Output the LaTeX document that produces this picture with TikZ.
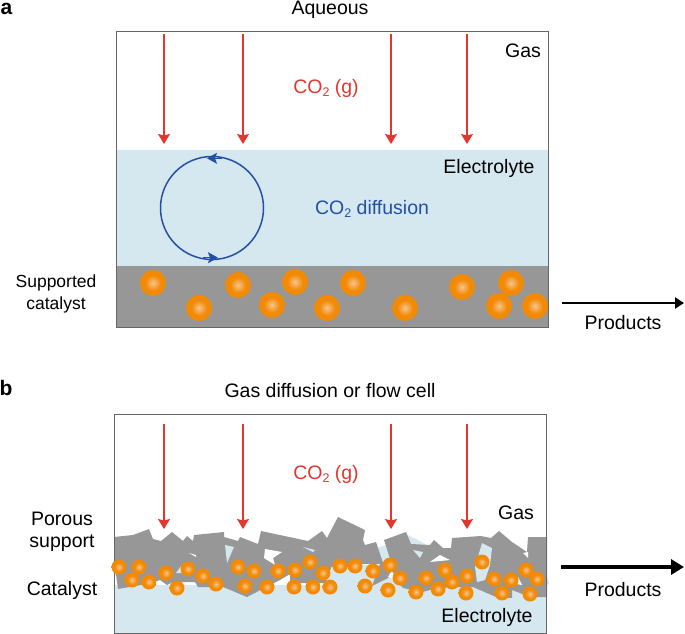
\documentclass[tikz,border=0pt]{standalone}
\usepackage{fontspec}
\setmainfont{Liberation Sans}
\usepackage{tikz}
\usetikzlibrary{arrows.meta,calc,positioning}

\definecolor{gasred}{HTML}{E5352F}
\definecolor{loopblue}{HTML}{2450A4}
\definecolor{elyte}{HTML}{D5E8F0}
\definecolor{rock}{HTML}{969796}
\definecolor{frameline}{HTML}{666666}
\definecolor{ballmid}{HTML}{F28A05}
\definecolor{ballhi}{HTML}{F7C48C}
\pgfdeclareradialshading{ballshade}{\pgfpoint{0bp}{0bp}}{%
  color(0bp)=(ballhi); color(15bp)=(ballmid); color(50bp)=(ballmid)}
\newcommand{\cotwo}{CO\raisebox{-3pt}{\fontsize{12.5}{12.5}\selectfont 2}}

\tikzset{
  lbl/.style={font=\fontsize{19.5}{21.5}\selectfont, inner sep=0pt, align=center},
  panel/.style={font=\fontsize{21}{21}\selectfont\bfseries, inner sep=0pt},
  redlbl/.style={lbl, text=gasred},
  co2/.style={gasred, line width=1.2pt, -{Stealth[length=10pt,width=12pt,inset=1.5pt]}},
  ballbig/.style={circle, inner sep=0pt, minimum size=26pt, shading=ballshade},
  ballsmall/.style={circle, inner sep=0pt, minimum size=15pt, shading=ballshade},
  frame/.style={draw=frameline, line width=1pt},
}

\begin{document}
\begin{tikzpicture}[x=1pt, y=-1pt]
   \useasboundingbox (0,0) rectangle (685,634);

   %panel a
   \fill[elyte] (116,150) rectangle (548,266);
   \fill[rock] (116,266) rectangle (548,327);
   \draw[frame] (116,32) rectangle (548,327);
   \foreach \x/\y [count=\i] in {153/283,199/308,238/285,272/305,295/282,327/308,353/283,
                                 405/308,462/287,511/283,499/306,535/306}
     \node[ballbig] (ba\i) at (\x,\y) {};

   \node[lbl] (aq) at (330,10) {Aqueous};
   \node[panel] (pa) at (6.5,9) {a};
   \node[lbl] (gasa) at (523,51) {Gas};
   \node[redlbl] (co2a) at (326,88) {\cotwo{} (g)};
   \node[lbl] (ela) at (489,168) {Electrolyte};
   \node[lbl, text=loopblue] (dif) at (372,209) {\cotwo{} diffusion};
   \node[lbl, font=\fontsize{17.5}{21.5}\selectfont] (sup) at (56,294) {Supported\\catalyst};
   \node[lbl] (proa) at (623,323) {Products};

   %convection loop
   \node[circle, draw=loopblue, line width=1.5pt, minimum size=103pt, inner sep=0pt] (loop) at (212,208) {};
   \coordinate (l0) at (222,158.3);
   \coordinate (l1) at (207,158.3);
   \coordinate (l2) at (203,257.7);
   \coordinate (l3) at (218,257.7);

   \coordinate (a0) at (164,34);
   \coordinate (a1) at (164,144);
   \coordinate (a2) at (243,34);
   \coordinate (a3) at (243,144);
   \coordinate (a4) at (391,34);
   \coordinate (a5) at (391,144);
   \coordinate (a6) at (467,34);
   \coordinate (a7) at (467,144);
   \coordinate (p0) at (562,303);
   \coordinate (p1) at (684,303);

   \path[co2]
     (a0) edge (a1)
     (a2) edge (a3)
     (a4) edge (a5)
     (a6) edge (a7);
   \path[loopblue, line width=1.2pt, -{Stealth[length=10pt,width=11pt,inset=2pt]}]
     (l0) edge (l1)
     (l2) edge (l3);
   \path[-{Stealth[length=9pt,width=11pt,inset=0pt]}, line width=2.8pt]
     (p0) edge (p1);

   %panel b
   \fill[elyte] (115,585) rectangle (546,633);
   \fill[elyte] (325,585) -- (333,565) -- (395,565) -- (400,590) -- cycle;
   \fill[elyte] (378,548) -- (385,545) -- (394,565) -- (382,565) -- cycle;
   \fill[elyte] (404,533) -- (418,540) -- (432,548) -- (411,546) -- cycle;
   \fill[elyte] (445,565) -- (465,568) -- (470,590) -- (440,590) -- cycle;
   \fill[elyte] (522,575) -- (545,573) -- (549,583) -- (542,592) -- (525,590) -- cycle;
   \fill[rock] (114,537) -- (133,535) -- (149,529) -- (153,539) -- (161,541) -- (172,532)
     -- (183,541) -- (187,536) -- (193,541) -- (194,535) -- (224,532) -- (224,537)
     -- (238,541) -- (240,537) -- (258,544) -- (261,531) -- (308,541) -- (322,531)
     -- (327,538) -- (338,517) -- (365,530) -- (363,540) -- (365,545) -- (376,542)
     -- (378,548) -- (383,563) -- (392,565) -- (384,540) -- (406,532) -- (411,544) -- (430,545)
     -- (434,540) -- (443,548) -- (451,548) -- (452,538) -- (481,536) -- (491,538)
     -- (499,531) -- (512,542) -- (527,552) -- (528,537) -- (547,537) -- (547,597) -- (530,597)
     -- (512,590) -- (512,598) -- (496,597) -- (473,587) -- (450,587) -- (430,590)
     -- (422,592) -- (403,588) -- (392,576) -- (372,586) -- (380,564) -- (365,564)
     -- (332,566) -- (325,583) -- (290,583) -- (290,574) -- (280,580) -- (247,597) -- (223,587)
     -- (198,587) -- (195,582) -- (173,582) -- (167,585) -- (160,580) -- (152,583) -- (118,589)
     -- (115,567) -- cycle;
   %gaps in the support
   \fill[white] (265,549) -- (282,552) -- (273,558) -- (275,565) -- (264,558) -- cycle;
   \fill[white] (189,553) -- (196,555) -- (196,557) -- cycle;
   \fill[white] (430,562) -- (440,555) -- (450,560) -- cycle;
   \fill[white] (523,553) -- (528,558) -- (528,552) -- cycle;
   \fill[white] (518,577) -- (522,585) -- (512,583) -- cycle;
   \fill[white] (392,570) -- (396,580) -- (388,577) -- cycle;
   \fill[elyte] (225,545) -- (234,547) -- (227,563) -- cycle;
   \fill[elyte] (176,573) -- (182,565) -- (183,573) -- cycle;
   \fill[elyte] (303,547) -- (315,550) -- (313,552) -- cycle;
   \fill[elyte] (413,550) -- (423,552) -- (420,558) -- cycle;
   \fill[elyte] (482,543) -- (492,548) -- (490,565) -- (485,580) -- (477,582) -- (475,567) -- cycle;
   \draw[frame] (114,414) rectangle (546,633);
   \foreach \x/\y [count=\i] in {119/567,139/567,132/580,149/582,166/573,177/588,188/569,203/576,
       216/584,238/567,254/571,245/586,267/587,278/571,295/570,294/587,310/562,323/573,313/587,
       330/587,340/566,355/566,373/571,365/586,390/565,400/578,388/590,416/592,426/578,438/589,
       445/570,452/582,467/576,466/593,482/562,494/579,502/593,511/580,526/570,537/579,530/594}
     \node[ballsmall] (bb\i) at (\x,\y) {};

   \node[lbl] (flow) at (330,391) {Gas diffusion or flow cell};
   \node[panel] (pb) at (6,388) {b};
   \node[redlbl] (co2b) at (326,474) {\cotwo{} (g)};
   \node[lbl] (gasb) at (516,513) {Gas};
   \node[lbl] (por) at (62,532) {Porous\\support};
   \node[lbl] (cat) at (62,590) {Catalyst};
   \node[lbl] (prob) at (623,590) {Products};
   \node[lbl] (elb) at (487,617) {Electrolyte};

   \coordinate (b0) at (164,424);
   \coordinate (b1) at (164,529);
   \coordinate (b2) at (243,424);
   \coordinate (b3) at (243,529);
   \coordinate (b4) at (391,424);
   \coordinate (b5) at (391,529);
   \coordinate (b6) at (467,424);
   \coordinate (b7) at (467,529);
   \coordinate (q0) at (561,567);
   \coordinate (q1) at (684,567);

   \path[co2]
     (b0) edge (b1)
     (b2) edge (b3)
     (b4) edge (b5)
     (b6) edge (b7);
   \path[-{Stealth[length=13pt,width=15pt,inset=0pt]}, line width=4.5pt]
     (q0) edge (q1);
\end{tikzpicture}
\end{document}
